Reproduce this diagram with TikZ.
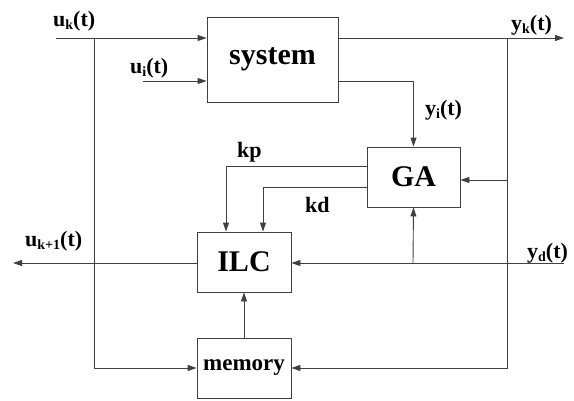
\documentclass[tikz,border=0pt]{standalone}
\usepackage{fontspec}
\setmainfont{Liberation Serif}
\usetikzlibrary{arrows.meta,calc}
\newcommand{\lsub}[1]{\raisebox{-0.3ex}{\fontsize{14}{14}\selectfont #1}}
\begin{document}
\begin{tikzpicture}[x=1pt,y=-1pt,
  line/.style={draw=black!75,line width=0.9pt},
  arr/.style={line,-{Triangle[length=9pt,width=6pt]}},
  blk/.style={draw=black!75,line width=0.9pt,rectangle,inner sep=0pt,font=\fontsize{30}{30}\selectfont\bfseries},
  lbl/.style={font=\fontsize{22}{22}\selectfont\bfseries,inner sep=0pt}]
\useasboundingbox (0,0) rectangle (574,400);
% blocks
\node[blk,minimum width=131pt,minimum height=85pt] (sys) at (272.5,59.5) {system};
\node[blk,minimum width=93pt,minimum height=60pt] (ga) at (413.5,177) {GA};
\node[blk,minimum width=94pt,minimum height=60pt] (ilc) at (244,262) {ILC};
\node[blk,minimum width=94pt,minimum height=60pt,font=\fontsize{23}{23}\selectfont\bfseries] (mem) at (244,368) {memory};
% coordinates
\coordinate (ukS) at (56,38);
\coordinate (j1) at (94,38);
\coordinate (uiS) at (143,81);
\coordinate (ykE) at (564,38);
\coordinate (j2) at (507,38);
\coordinate (ydS) at (564,263);
\coordinate (j3) at (413,263);
\coordinate (outE) at (13,263);
% connectors
\draw[arr] (ukS) -- (ukS -| sys.west);
\draw[arr] (j1) |- (mem.west);
\draw[arr] (uiS) -- (uiS -| sys.west);
\draw[arr] (sys.east |- ykE) -- (ykE);
\draw[arr] (j2) |- (mem.east);
\draw[arr] (507,180) -- (ga.east |- 0,180);
\draw[arr] (sys.east |- 0,81) -| (ga.north);
\draw[arr] (ga.west |- 0,166) -| (226,0 |- ilc.north);
\draw[arr] (ga.west |- 0,187) -| (263,0 |- ilc.north);
\draw[arr] (ydS) -- (ydS -| ilc.east);
\draw[arr] (j3) -- (ga.south);
\draw[arr] (ilc.west |- outE) -- (outE);
\draw[arr] (mem.north) -- (ilc.south);
% labels
\node[lbl,anchor=base west] (lUk) at (53,26) {u\lsub{k}(t)};
\node[lbl,anchor=base west] (lUi) at (130,73) {u\lsub{i}(t)};
\node[lbl,anchor=base west] (lYk) at (511,30) {y\lsub{k}(t)};
\node[lbl,anchor=base west] (lYi) at (425,115) {y\lsub{i}(t)};
\node[lbl,anchor=base west] (lKp) at (237,157) {kp};
\node[lbl,anchor=base west] (lKd) at (305,212) {kd};
\node[lbl,anchor=base west] (lYd) at (527,258) {y\lsub{d}(t)};
\node[lbl,anchor=base west] (lUk1) at (25,246) {u\lsub{k+1}(t)};
\end{tikzpicture}
\end{document}
